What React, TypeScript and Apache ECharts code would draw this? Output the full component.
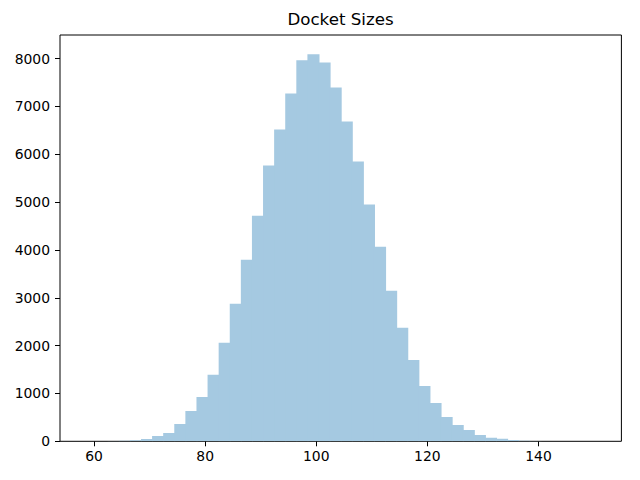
import React, { useEffect, useRef } from "react";
import * as echarts from "echarts";

const titleText = "Docket Sizes";
const binStart = 58.47;
const binWidth = 1.997;
const counts = [
  1, 3, 6, 12, 22, 50, 110, 175, 362, 635, 928, 1389, 2059, 2876, 3797, 4718,
  5766, 6518, 7272, 7964, 8090, 7922, 7399, 6687, 5849, 4949, 4070, 3148, 2373,
  1702, 1158, 802, 509, 340, 236, 130, 75, 55, 25, 12, 6, 3, 2, 1, 0, 1,
];
const xTicks = [60, 80, 100, 120, 140];
const yTicks = [0, 1000, 2000, 3000, 4000, 5000, 6000, 7000, 8000];

export default function App() {
  const ref = useRef<HTMLDivElement>(null);
  useEffect(() => {
    if (!ref.current) return;
    const chart = echarts.init(ref.current, null, { renderer: "svg" });
    const data = counts.map((c, i) => [
      binStart + i * binWidth,
      binStart + (i + 1) * binWidth,
      c,
    ]);
    const lo = binStart;
    const hi = binStart + counts.length * binWidth;
    const pad = (hi - lo) * 0.05;
    const yMax = Math.max(...counts) * 1.05;
    const font = "DejaVu Sans";
    chart.setOption({
      animation: false,
      title: {
        text: titleText,
        left: 340.5,
        top: 11,
        padding: 0,
        textAlign: "center",
        textStyle: { fontFamily: font, fontSize: 16.67, fontWeight: "normal", color: "#000" },
      },
      grid: {
        left: 60,
        top: 35,
        right: 18.6,
        bottom: 38.7,
        show: true,
        borderColor: "#000",
        borderWidth: 1,
        backgroundColor: "transparent",
      },
      xAxis: {
        type: "value",
        min: lo - pad,
        max: hi + pad,
        splitLine: { show: false },
        axisLine: { show: false },
        axisTick: { show: true, length: 5, customValues: xTicks, lineStyle: { color: "#000", width: 1 } },
        axisLabel: {
          customValues: xTicks,
          margin: 8,
          fontFamily: font,
          fontSize: 13.9,
          color: "#000",
          formatter: (v: number) => String(v),
        },
      },
      yAxis: {
        type: "value",
        min: 0,
        max: yMax,
        splitLine: { show: false },
        axisLine: { show: false },
        axisTick: { show: true, length: 5, customValues: yTicks, lineStyle: { color: "#000", width: 1 } },
        axisLabel: {
          customValues: yTicks,
          margin: 10,
          fontFamily: font,
          fontSize: 13.9,
          color: "#000",
          formatter: (v: number) => String(v),
        },
      },
      series: [
        {
          type: "custom",
          clip: true,
          encode: { x: [0, 1], y: 2 },
          data,
          renderItem: (params: any, api: any) => {
            const p0 = api.coord([api.value(0), api.value(2)]);
            const p1 = api.coord([api.value(1), 0]);
            return {
              type: "rect",
              shape: { x: p0[0], y: p0[1], width: p1[0] - p0[0] + 1, height: p1[1] - p0[1] },
              style: { fill: "#a5c9e1", stroke: null },
            };
          },
        },
      ],
    });
    return () => chart.dispose();
  }, []);
  return (
    <div
      ref={ref}
      style={{ position: "fixed", left: 0, top: 0, width: 640, height: 480, background: "#fff" }}
    />
  );
}
